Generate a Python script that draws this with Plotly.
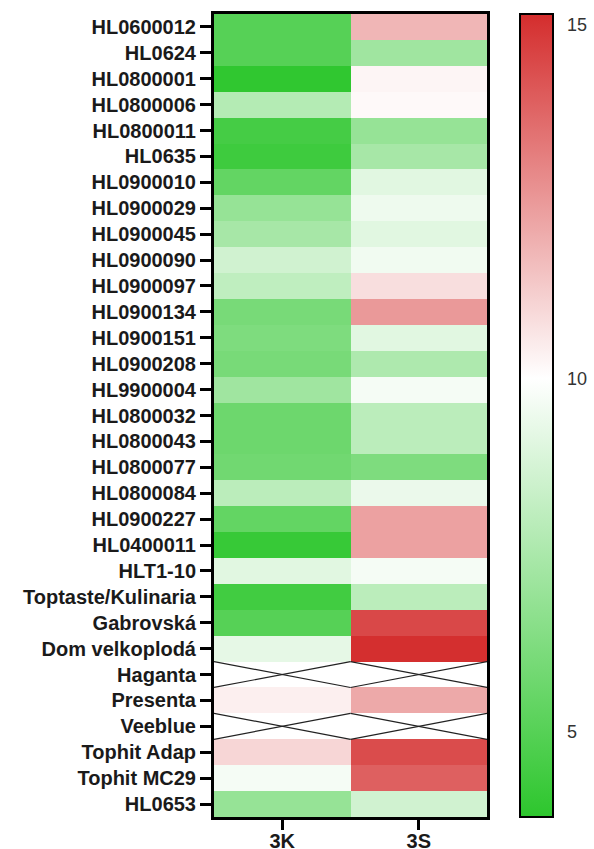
import plotly.graph_objects as go

rows = ["HL0600012", "HL0624", "HL0800001", "HL0800006", "HL0800011", "HL0635",
        "HL0900010", "HL0900029", "HL0900045", "HL0900090", "HL0900097", "HL0900134",
        "HL0900151", "HL0900208", "HL9900004", "HL0800032", "HL0800043", "HL0800077",
        "HL0800084", "HL0900227", "HL0400011", "HLT1-10", "Toptaste/Kulinaria",
        "Gabrovská", "Dom velkoplodá", "Haganta", "Presenta", "Veeblue",
        "Tophit Adap", "Tophit MC29", "HL0653"]
columns = ["3K", "3S"]

values_3K = [5.0, 5.0, 3.9, 7.8, 4.5, 4.3, 5.4, 6.9, 7.4, 8.6, 8.1, 6.0,
             6.2, 6.0, 7.2, 5.7, 5.7, 5.8, 8.0, 5.4, 4.1, 9.1, 4.4,
             5.0, 9.25, None, 10.4, None, 11.0, 9.7, 6.9]
values_3S = [11.8, 7.2, 10.25, 10.15, 6.9, 7.4, 9.1, 9.5, 9.1, 9.6, 10.8, 12.5,
             9.1, 7.6, 9.7, 8.0, 8.0, 6.2, 9.4, 12.3, 12.3, 9.7, 8.0,
             14.5, 15.1, None, 12.1, None, 14.4, 13.9, 8.6]

colorbar_ticks = [5, 10, 15]
z_min, z_max, z_mid = 3.8, 15.15, 10.0

series = [values_3K, values_3S]
z = [[series[c][r] for c in range(len(columns))] for r in range(len(rows))]
xs = list(range(len(columns)))
ys = list(range(len(rows)))

mid = (z_mid - z_min) / (z_max - z_min)
colorscale = [[0.0, "rgb(45,198,45)"], [mid, "rgb(255,255,255)"], [1.0, "rgb(212,45,45)"]]

cb_common = dict(
    x=1.121, xanchor="left", xref="paper", y=0.5, yanchor="middle",
    len=1.0, lenmode="fraction", thickness=33, thicknessmode="pixels",
    outlinewidth=2, outlinecolor="black", xpad=0, ypad=0,
    tickvals=colorbar_ticks,
)

fig = go.Figure()
fig.add_trace(go.Heatmap(
    x=xs, y=ys, z=z, zmin=z_min, zmax=z_max, colorscale=colorscale,
    hoverongaps=False, xgap=0, ygap=0,
    colorbar=dict(
        **cb_common,
        ticks="outside", ticklen=10, tickwidth=1, tickcolor="rgba(0,0,0,0)",
        tickfont=dict(family="Liberation Sans, Arial, sans-serif", size=18, color="#333333"),
    ),
))
# overlay colour bar carrying only the small inside tick marks
fig.add_trace(go.Heatmap(
    x=[0], y=[0], z=[[None]], zmin=z_min, zmax=z_max, colorscale=colorscale,
    hoverinfo="skip", showscale=True,
    colorbar=dict(**cb_common, ticks="inside", ticklen=6, tickwidth=2,
                  tickcolor="black", showticklabels=False),
))

# cross marks for missing cells
for r in ys:
    for c in xs:
        if series[c][r] is None:
            fig.add_trace(go.Scatter(
                x=[c - 0.5, c + 0.5, None, c - 0.5, c + 0.5],
                y=[r - 0.5, r + 0.5, None, r + 0.5, r - 0.5],
                mode="lines", line=dict(color="#222222", width=1.2),
                showlegend=False, hoverinfo="skip"))

label_font = dict(family="Liberation Sans, Arial, sans-serif", size=20, color="#1a1a1a")

fig.update_layout(
    template="none",
    width=594, height=849,
    margin=dict(l=214, r=107, t=14, b=32, autoexpand=False),
    paper_bgcolor="white", plot_bgcolor="white",
    showlegend=False,
    xaxis=dict(
        tickvals=xs, ticktext=[f"<b>{c}</b>" for c in columns],
        range=[-0.5, len(columns) - 0.5], automargin=False,
        showline=True, linecolor="black", linewidth=3, mirror=True,
        ticks="outside", ticklen=10, tickwidth=3, tickcolor="black",
        ticklabelstandoff=-6,
        showgrid=False, zeroline=False, tickfont=label_font,
    ),
    yaxis=dict(
        tickvals=ys, ticktext=[f"<b>{r}</b>" for r in rows],
        range=[len(rows) - 0.5, -0.5], automargin=False,
        showline=True, linecolor="black", linewidth=3, mirror=True,
        ticks="outside", ticklen=11, tickwidth=3, tickcolor="black",
        showgrid=False, zeroline=False, tickfont=label_font,
    ),
)

fig.write_html("out.html", config={"displayModeBar": False},
               post_script="document.body.style.margin='0';document.body.style.overflow='hidden';")
